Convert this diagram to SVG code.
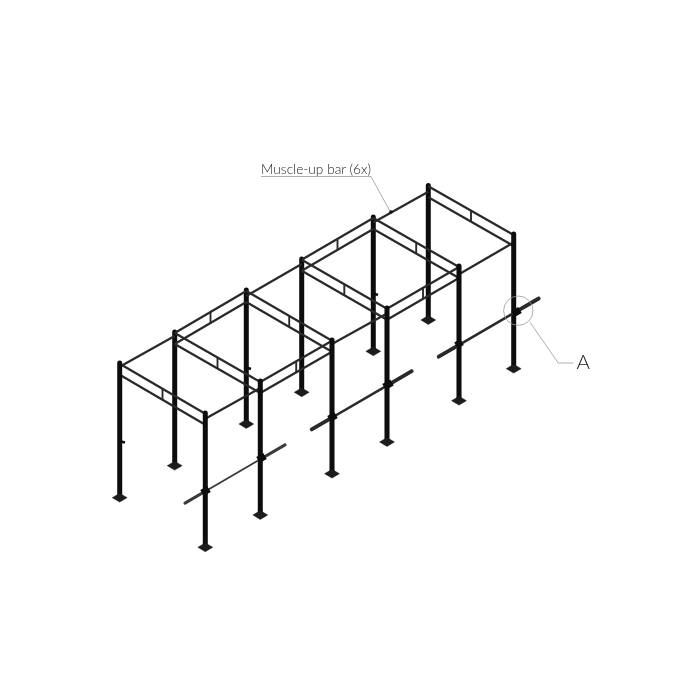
<svg xmlns="http://www.w3.org/2000/svg" width="700" height="700" viewBox="0 0 700 700">
<style>
.post{stroke:#0a0a0a;stroke-width:5;fill:none;stroke-linecap:round}
.plate{fill:#1a1a1a;stroke:#1a1a1a;stroke-width:.5}
.rail{stroke:#2a2a2a;stroke-width:2.3;fill:none}
.link{stroke:#2b2b2b;stroke-width:1.9;fill:none}
.clamp{stroke:#111;stroke-width:2.6;fill:none}
.sleeve{stroke:#2a2a2a;stroke-width:3.8;fill:none;stroke-linecap:round}
.shaft{stroke:#2a2a2a;stroke-width:2.6;fill:none}
.thin .sleeve{stroke:#3a3a3a;stroke-width:3}
.thin .shaft{stroke:#3a3a3a;stroke-width:1.9}
.knot{stroke:#0a0a0a;stroke-width:7;fill:none}
.lead{stroke:#999;stroke-width:.8;fill:none}
.label{font-family:"Lato","Liberation Sans",sans-serif;font-weight:300;fill:#222}
</style>
<defs>
<filter id="soft" x="-5%" y="-5%" width="110%" height="110%"><feGaussianBlur stdDeviation="0.35"/></filter>
<g id="foot"><polygon class="plate" points="-7.4,0 0,-4.4 7.4,0 0,4.4"/></g>
</defs>
<g filter="url(#soft)">
<g id="back-posts">
<g id="post-2"><line class="post" x1="174.7" y1="332" x2="174.7" y2="465"/><use href="#foot" x="174.7" y="465.7"/></g>
<g id="post-4"><line class="post" x1="246.3" y1="290" x2="246.3" y2="424"/><use href="#foot" x="246.3" y="424"/><line class="clamp" x1="245" y1="367" x2="251" y2="369"/></g>
<g id="post-6"><line class="post" x1="301.7" y1="259" x2="301.7" y2="392"/><use href="#foot" x="301.7" y="392.3"/></g>
<g id="post-8"><line class="post" x1="373.3" y1="217" x2="373.3" y2="351"/><use href="#foot" x="373.3" y="351.3"/><line class="clamp" x1="372" y1="293" x2="378" y2="295"/></g>
<g id="post-10"><line class="post" x1="428.3" y1="185.5" x2="428.3" y2="320"/><use href="#foot" x="428.3" y="320"/></g>
</g>
<g id="connectors">
<path class="rail" d="M119.7 363.7L205.3 413.7M119.7 374.7L205.3 424.7"/><path class="link" d="M162.5 388.7V399.7"/>
<path class="rail" d="M174.7 333L260.3 382M174.7 344L260.3 393"/><path class="link" d="M217.5 357.5V368.5"/>
<path class="rail" d="M246.3 291L332 340.7M246.3 302L332 351.7"/><path class="link" d="M289.2 315.9V326.9"/>
<path class="rail" d="M301.7 259.7L387 308.7M301.7 270.7L387 319.7"/><path class="link" d="M344.3 284.2V295.2"/>
<path class="rail" d="M373.3 218L459 267M373.3 229L459 278"/><path class="link" d="M416.2 242.5V253.5"/>
<path class="rail" d="M428.3 186.3L513.7 235M428.3 197.3L513.7 246"/><path class="link" d="M471 210.7V221.7"/>
<path class="rail" d="M174.7 333L246.3 291M174.7 344L246.3 302"/><path class="link" d="M210.5 312V323"/>
<path class="rail" d="M260.3 382L332 340.7M260.3 393L332 351.7"/><path class="link" d="M296.2 361.3V372.3"/>
<path class="rail" d="M301.7 259.7L373.3 218M301.7 270.7L373.3 229"/><path class="link" d="M337.5 238.9V249.9"/>
<path class="rail" d="M387 308.7L459 267M387 319.7L459 278"/><path class="link" d="M423 287.9V298.9"/>
<path class="rail" d="M119.7 366.7L174.7 336M205.3 418.7L260.3 388M246.3 296L301.7 264M332 344L387 313.6M373.3 222.6L428.3 191.8M459 274.2L513.7 242.6"/>
</g>
<g id="front-posts">
<g id="post-1"><line class="post" x1="119.7" y1="363" x2="119.7" y2="497"/><use href="#foot" x="119.7" y="497.7"/><line class="clamp" x1="119" y1="441" x2="125" y2="442.5"/></g>
<g id="post-3"><line class="post" x1="205.3" y1="413" x2="205.3" y2="547"/><use href="#foot" x="205.3" y="547.3"/></g>
<g id="post-5"><line class="post" x1="260.3" y1="381" x2="260.3" y2="515"/><use href="#foot" x="260.3" y="515"/></g>
<g id="post-7"><line class="post" x1="332" y1="340" x2="332" y2="473"/><use href="#foot" x="332" y="473.7"/></g>
<g id="post-9"><line class="post" x1="387" y1="308" x2="387" y2="442"/><use href="#foot" x="387" y="442"/></g>
<g id="post-11"><line class="post" x1="459" y1="266" x2="459" y2="400"/><use href="#foot" x="459" y="400.7"/></g>
<g id="post-12"><line class="post" x1="513.7" y1="234" x2="513.7" y2="368"/><use href="#foot" x="513.7" y="368.7"/></g>
</g>
<g id="bars">
<g id="bar-1" class="thin"><line class="shaft" x1="184" y1="503.7" x2="286" y2="444.3"/><line class="sleeve" x1="185" y1="503.1" x2="204" y2="492"/><line class="sleeve" x1="262" y1="458.3" x2="285" y2="444.9"/><path class="knot" d="M202 493L209 489M258 460L265 456"/></g>
<g id="bar-2"><line class="shaft" x1="310.7" y1="430" x2="412.7" y2="370.6"/><line class="sleeve" x1="311.7" y1="429.4" x2="330.7" y2="418.3"/><line class="sleeve" x1="388.7" y1="384.6" x2="411.7" y2="371.2"/><path class="knot" d="M329 419L336 415M384 387L392 382.5"/></g>
<g id="bar-3"><line class="shaft" x1="437.7" y1="357.3" x2="539.7" y2="297.9"/><line class="sleeve" x1="438.7" y1="356.7" x2="457.7" y2="345.6"/><line class="sleeve" x1="515.7" y1="311.9" x2="538.7" y2="298.5"/><path class="knot" d="M456 345.5L462 342M513 314L520 310"/></g>
</g>
</g>
<g id="callout-bar">
<path class="lead" d="M261 176.5H371L391 213"/>
<circle cx="391" cy="212" r="1.8" fill="#111"/>
<text class="label" x="261" y="174" font-size="13" textLength="110" lengthAdjust="spacingAndGlyphs">Muscle-up bar (6x)</text>
</g>
<g id="callout-a">
<circle class="lead" cx="518.3" cy="310.7" r="14.7"/>
<path class="lead" d="M530 322.3L558.3 363H573.3"/>
<text class="label" x="576.5" y="369" font-size="20.5">A</text>
</g>
</svg>
